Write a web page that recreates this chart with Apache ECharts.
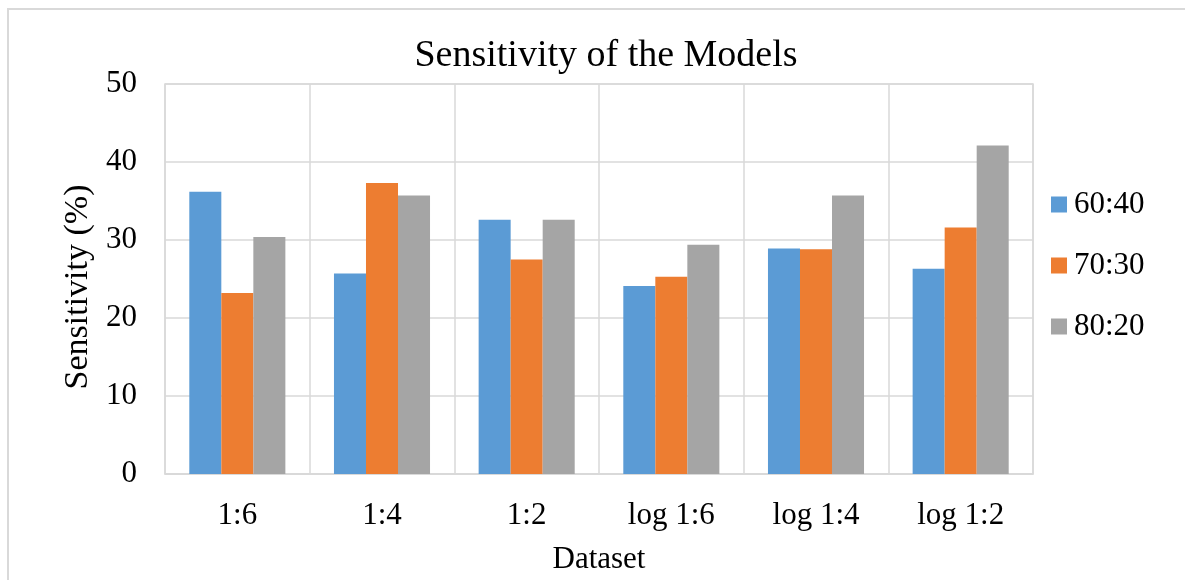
<!DOCTYPE html>
<html>
<head>
<meta charset="utf-8">
<title>Sensitivity of the Models</title>
<script src="https://cdn.jsdelivr.net/npm/echarts@6/dist/echarts.min.js"></script>
<style>
  html, body { margin: 0; padding: 0; background: #ffffff; }
  #chart { width: 1185px; height: 580px; }
</style>
</head>
<body>
<div id="chart"></div>
<script>
// Dataset splits and sensitivity (%) per train:test ratio
const categories = ['1:6', '1:4', '1:2', 'log 1:6', 'log 1:4', 'log 1:2'];
const seriesNames = ['60:40', '70:30', '80:20'];
const split6040 = [36.2, 25.7, 32.6, 24.1, 28.9, 26.3];
const split7030 = [23.2, 37.3, 27.5, 25.3, 28.8, 31.6];
const split8020 = [30.4, 35.7, 32.6, 29.4, 35.7, 42.1];
const yTicks = [0, 10, 20, 30, 40, 50];

const colors = ['#5B9BD5', '#ED7D31', '#A5A5A5'];
const serif = '"Liberation Serif", "Times New Roman", serif';
const gridColor = '#d9d9d9';

const chart = echarts.init(document.getElementById('chart'), null, { renderer: 'canvas' });

const values = [split6040, split7030, split8020];

chart.setOption({
  animation: false,
  backgroundColor: '#ffffff',
  color: colors,
  graphic: [{
    type: 'rect',
    shape: { x: 8, y: 9, width: 1200, height: 600 },
    style: { fill: 'none', stroke: '#d9d9d9', lineWidth: 2 },
    silent: true,
    z: -1
  }],
  title: {
    text: 'Sensitivity of the Models',
    left: 601,
    textAlign: 'center',
    top: 32,
    textStyle: { fontFamily: serif, fontSize: 38, fontWeight: 'normal', color: '#000' }
  },
  legend: {
    orient: 'vertical',
    left: 1046,
    top: 184,
    itemWidth: 16,
    itemHeight: 16,
    itemGap: 30,
    icon: 'rect',
    data: seriesNames,
    textStyle: { fontFamily: serif, fontSize: 31, lineHeight: 31, color: '#000', padding: [0, 0, 0, 2] }
  },
  grid: {
    left: 165,
    right: 152,
    top: 84,
    bottom: 99,
    show: true,
    borderColor: gridColor,
    borderWidth: 1.5,
    containLabel: false
  },
  xAxis: {
    type: 'category',
    data: categories,
    name: 'Dataset',
    nameLocation: 'middle',
    nameGap: 70,
    nameTextStyle: { fontFamily: serif, fontSize: 31, color: '#000' },
    axisLine: { show: true, lineStyle: { color: gridColor, width: 1.5 } },
    axisTick: { show: false },
    axisLabel: { fontFamily: serif, fontSize: 31, color: '#000', margin: 26 },
    splitLine: { show: true, lineStyle: { color: gridColor, width: 1.5 } }
  },
  yAxis: {
    type: 'value',
    min: yTicks[0],
    max: yTicks[yTicks.length - 1],
    interval: 10,
    name: 'Sensitivity (%)',
    nameLocation: 'middle',
    nameGap: 64,
    nameTextStyle: { fontFamily: serif, fontSize: 34, color: '#000', padding: [0, 16, 0, 0] },
    axisLine: { show: false },
    axisTick: { show: false },
    axisLabel: { fontFamily: serif, fontSize: 31, color: '#000', margin: 28 },
    splitLine: { show: true, lineStyle: { color: gridColor, width: 1.5 } }
  },
  series: seriesNames.map((name, i) => ({
    name: name,
    type: 'bar',
    data: values[i],
    barGap: '0%',
    barCategoryGap: '33.6%',
    itemStyle: { color: colors[i] }
  }))
});
</script>
</body>
</html>
